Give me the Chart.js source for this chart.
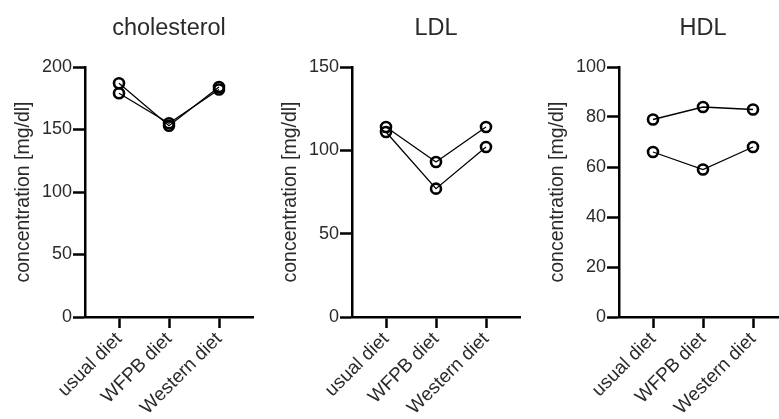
<!DOCTYPE html>
<html>
<head>
<meta charset="utf-8">
<script src="https://cdn.jsdelivr.net/npm/chart.js@4"></script>
<style>
  body { margin: 0; background: #fff; width: 779px; height: 419px; overflow: hidden; position: relative; }
  canvas { position: absolute; top: 0; }
</style>
</head>
<body>
<canvas id="chol" width="267" height="419" style="left:0px"></canvas>
<canvas id="ldl" width="267" height="419" style="left:267px"></canvas>
<canvas id="hdl" width="267" height="419" style="left:534px"></canvas>
<script>
// categories on the x axis
const categories = ["usual diet", "WFPB diet", "Western diet"];

// two subjects per panel, values in mg/dl
const cholA = [187, 153, 184];
const cholB = [179, 155, 182];
const ldlA = [114, 93, 114];
const ldlB = [111, 77, 102];
const hdlA = [79, 84, 83];
const hdlB = [66, 59, 68];

const yLabel = "concentration [mg/dl]";
const textColor = "#2a2a2a";
const fontFamily = "'Liberation Sans', Arial, sans-serif";

//turn a row of values into x/y points on the category index
function toPoints(values) {
  return values.map((v, i) => ({ x: i, y: v }));
}

function makePanel(id, title, seriesA, seriesB, yMax, yStep) {
  const ds = (values) => ({
    data: toPoints(values),
    borderColor: "#000",
    borderWidth: 1.3,
    pointStyle: "circle",
    pointRadius: 5,
    pointBorderWidth: 2.6,
    pointBorderColor: "#000",
    pointBackgroundColor: "rgba(255,255,255,0)",
    showLine: true,
    fill: false,
  });

  return new Chart(document.getElementById(id), {
    type: "line",
    data: { datasets: [ds(seriesA), ds(seriesB)] },
    options: {
      responsive: false,
      animation: false,
      events: [],
      layout: { padding: { left: 0, right: 14, top: 0, bottom: 0 } },
      plugins: {
        legend: { display: false },
        tooltip: { enabled: false },
        title: {
          display: true,
          text: title,
          fullSize: false,
          color: textColor,
          font: { family: fontFamily, size: 23.5, weight: "normal" },
          padding: { top: 14, bottom: 24.8 },
        },
      },
      scales: {
        x: {
          type: "linear",
          min: -0.68,
          max: 2.68,
          afterBuildTicks: (scale) => {
            scale.ticks = categories.map((_, i) => ({ value: i }));
          },
          afterFit: (scale) => {
            scale.height = 102;
          },
          ticks: {
            color: textColor,
            font: { family: fontFamily, size: 19 },
            minRotation: 45,
            maxRotation: 45,
            padding: 0,
            callback: (value) => categories[value],
          },
          grid: {
            drawOnChartArea: false,
            drawTicks: true,
            tickLength: 11,
            tickWidth: 2.5,
            tickColor: "#000",
          },
          border: { color: "#000", width: 2.5 },
        },
        y: {
          min: 0,
          max: yMax,
          afterFit: (scale) => {
            scale.width = 85;
          },
          ticks: {
            stepSize: yStep,
            color: textColor,
            font: { family: fontFamily, size: 18 },
            padding: 1,
          },
          grid: {
            drawOnChartArea: false,
            drawTicks: true,
            tickLength: 12,
            tickWidth: 2.5,
            tickColor: "#000",
          },
          border: { color: "#000", width: 2.5 },
          title: {
            display: true,
            text: yLabel,
            color: textColor,
            font: { family: fontFamily, size: 19.5 },
            padding: { top: 12, bottom: 0 },
          },
        },
      },
    },
  });
}

makePanel("chol", "cholesterol", cholA, cholB, 200, 50);
makePanel("ldl", "LDL", ldlA, ldlB, 150, 50);
makePanel("hdl", "HDL", hdlA, hdlB, 100, 20);
</script>
</body>
</html>
